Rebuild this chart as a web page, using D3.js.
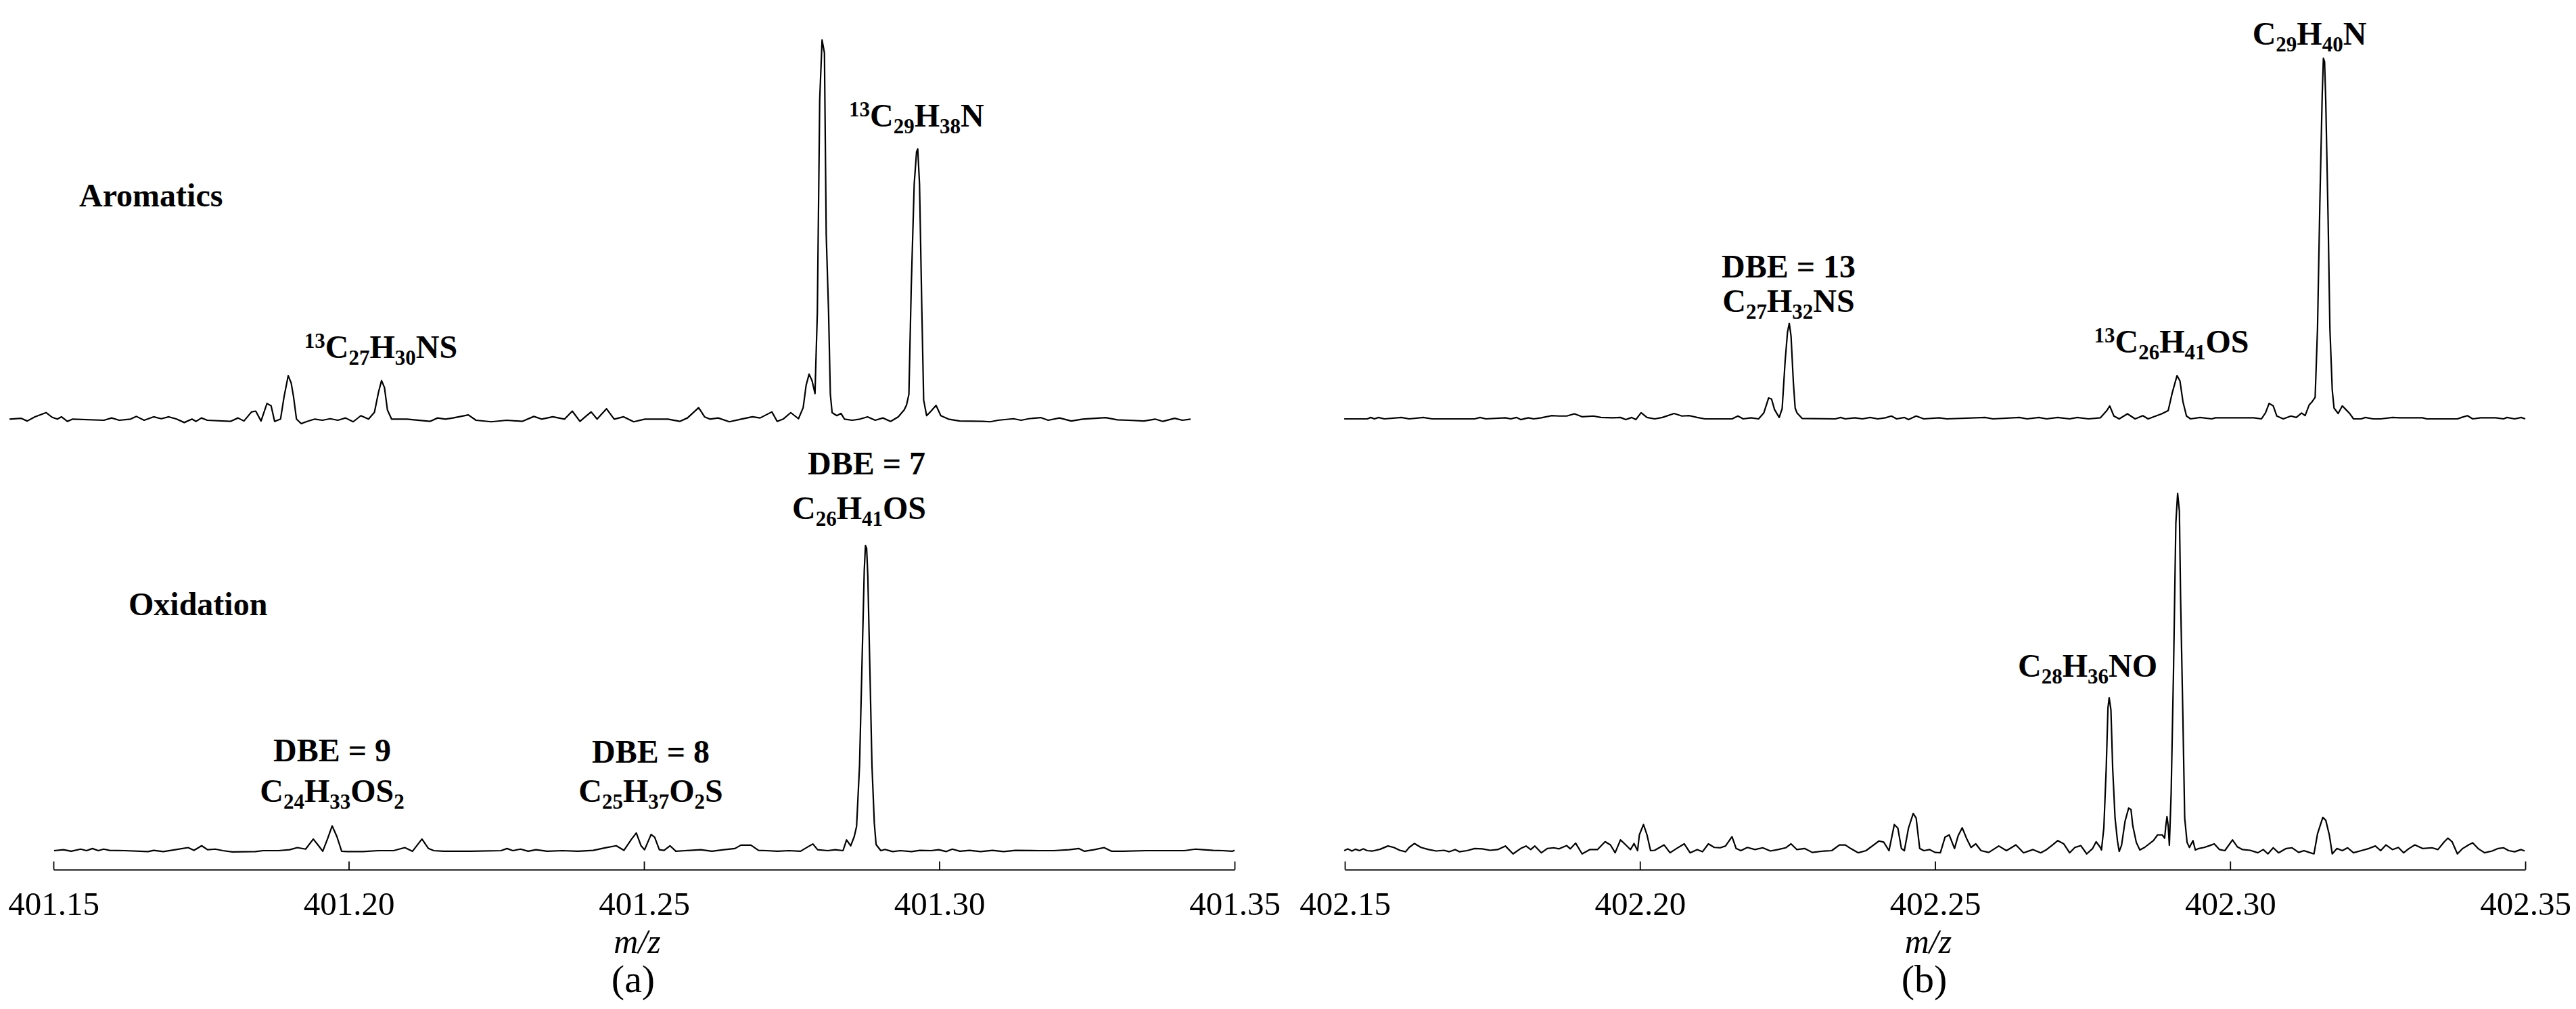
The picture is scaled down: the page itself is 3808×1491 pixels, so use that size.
<!DOCTYPE html>
<html>
<head>
<meta charset="utf-8">
<script src="https://cdn.jsdelivr.net/npm/d3@7"></script>
<style>
  body { margin: 0; background: #fff; }
  svg text { font-family: "Liberation Serif", "Times New Roman", serif; fill: #000; }
</style>
</head>
<body>
<div id="chart"></div>
<script>
// m/z tick values for the two panels
var ticksA = [401.15, 401.20, 401.25, 401.30, 401.35];
var ticksB = [402.15, 402.20, 402.25, 402.30, 402.35];

// spectra: [m/z, relative abundance %] (tallest peak of each trace = 100)
var aromaticsA = [[401.1500,0.3],[401.1520,0.5],[401.1530,-0.2],[401.1543,0.9],[401.1562,2.0],[401.1572,0.8],[401.1581,0.3],[401.1588,0.9],[401.1598,-0.3],[401.1607,0.3],[401.1660,0],[401.1673,0.6],[401.1686,0],[401.1705,0.3],[401.1715,1.0],[401.1728,0],[401.1744,0.9],[401.1757,0.4],[401.1770,0.9],[401.1783,0.3],[401.1796,-0.6],[401.1809,0.3],[401.1816,-0.3],[401.1825,0.6],[401.1835,0],[401.1874,-0.3],[401.1887,0.6],[401.1897,-0.2],[401.1910,2.2],[401.1917,2.4],[401.1926,-0.2],[401.1936,4.4],[401.1943,3.8],[401.1949,-0.3],[401.1959,0.3],[401.1965,6.2],[401.1972,11.7],[401.1977,9.8],[401.1981,6.2],[401.1986,0.3],[401.1994,-0.9],[401.2004,-0.3],[401.2017,0.3],[401.2030,0],[401.2043,0.4],[401.2056,0],[401.2069,0.6],[401.2082,-0.4],[401.2095,1.2],[401.2108,0.3],[401.2118,2.1],[401.2125,7.4],[401.2130,10.4],[401.2135,8.6],[401.2140,2.7],[401.2147,0.3],[401.2173,0.3],[401.2212,-0.3],[401.2225,0.6],[401.2238,0.3],[401.2251,0.6],[401.2277,1.4],[401.2290,0],[401.2316,-0.4],[401.2342,0],[401.2368,-0.3],[401.2388,1.0],[401.2401,0.3],[401.2420,0.9],[401.2440,0.3],[401.2453,2.4],[401.2466,-0.3],[401.2475,0.9],[401.2485,2.2],[401.2495,0.3],[401.2511,3.0],[401.2524,0.3],[401.2540,0.9],[401.2557,-0.4],[401.2576,0.3],[401.2615,0.3],[401.2635,-0.3],[401.2648,0.6],[401.2667,3.3],[401.2677,0.9],[401.2686,0.3],[401.2700,0.6],[401.2719,-0.4],[401.2739,0.3],[401.2758,0.9],[401.2771,0.6],[401.2791,2.2],[401.2800,-0.3],[401.2810,0.3],[401.2823,2.0],[401.2836,0.4],[401.2844,3.3],[401.2849,9.2],[401.2854,12.1],[401.2859,10.4],[401.2864,7.0],[401.2868,28.4],[401.2872,84.2],[401.2876,99.8],[401.2880,96.4],[401.2883,48.8],[401.2887,28.4],[401.2890,6.8],[401.2893,2.0],[401.2901,1.2],[401.2908,1.8],[401.2914,0.3],[401.2927,0],[401.2940,0.3],[401.2953,0.9],[401.2966,0],[401.2979,0.6],[401.2992,-0.3],[401.3005,0.9],[401.3015,2.7],[401.3019,4.0],[401.3023,6.8],[401.3027,35],[401.3032,62],[401.3036,70.5],[401.3038,71.2],[401.3041,62],[401.3045,28.4],[401.3048,5.3],[401.3053,1.2],[401.3061,2.5],[401.3069,3.9],[401.3077,1.2],[401.3090,0.3],[401.3109,-0.2],[401.3148,-0.3],[401.3161,-0.4],[401.3174,0],[401.3200,0.4],[401.3213,0],[401.3226,0.4],[401.3246,0.7],[401.3259,0],[401.3278,0.6],[401.3298,-0.2],[401.3317,0.3],[401.3356,0.7],[401.3376,0.1],[401.3395,0],[401.3421,-0.2],[401.3440,0.3],[401.3453,-0.3],[401.3473,0.5],[401.3486,0],[401.3500,0.3]];

var oxidationA = [[401.1501,0],[401.1517,0.3],[401.1530,-0.2],[401.1546,0.5],[401.1556,0],[401.1566,0.7],[401.1576,0],[401.1585,0.5],[401.1595,0.1],[401.1621,0],[401.1660,-0.3],[401.1670,0.1],[401.1686,-0.3],[401.1706,0.3],[401.1728,1.0],[401.1738,0.1],[401.1751,1.6],[401.1761,0.3],[401.1774,0.5],[401.1787,0],[401.1803,-0.4],[401.1842,-0.3],[401.1855,0],[401.1881,0],[401.1900,0.3],[401.1913,1.0],[401.1927,0.5],[401.1940,3.8],[401.1949,1.6],[401.1956,-0.2],[401.1964,3.8],[401.1972,8.1],[401.1980,4.6],[401.1988,-0.2],[401.1998,-0.3],[401.2024,-0.3],[401.2050,0],[401.2076,0],[401.2095,1.0],[401.2108,-0.2],[401.2124,3.8],[401.2135,0.7],[401.2144,0],[401.2161,-0.2],[401.2206,-0.2],[401.2258,0],[401.2268,0.7],[401.2278,0],[401.2291,0.5],[401.2304,-0.2],[401.2317,0.3],[401.2336,-0.2],[401.2362,0],[401.2388,-0.2],[401.2414,0.1],[401.2434,0.9],[401.2453,1.6],[401.2466,0.1],[401.2479,3.8],[401.2487,5.8],[401.2495,1.6],[401.2501,0.3],[401.2512,5.3],[401.2518,4.4],[401.2526,0.3],[401.2534,0.1],[401.2544,1.6],[401.2554,-0.2],[401.2570,0],[401.2596,0.3],[401.2615,-0.2],[401.2635,0.3],[401.2654,0.7],[401.2664,1.8],[401.2681,1.8],[401.2694,0.1],[401.2707,0],[401.2726,-0.2],[401.2745,0],[401.2765,-0.2],[401.2778,1.3],[401.2786,2.2],[401.2794,0.3],[401.2811,0],[401.2824,0.3],[401.2837,0],[401.2843,3.5],[401.2850,1.6],[401.2856,4.6],[401.2860,8],[401.2865,28],[401.2869,60],[401.2873,92],[401.2875,100],[401.2877,99],[401.2879,90],[401.2883,55],[401.2886,28],[401.2890,9],[401.2893,2],[401.2901,0],[401.2908,0.4],[401.2921,-0.3],[401.2934,0],[401.2953,-0.3],[401.2967,0.1],[401.2986,0],[401.2999,0.3],[401.3012,-0.3],[401.3022,0.5],[401.3035,-0.2],[401.3051,0.1],[401.3070,-0.3],[401.3090,0.1],[401.3109,-0.3],[401.3129,0.1],[401.3168,0],[401.3194,0],[401.3220,0.3],[401.3236,0.7],[401.3246,-0.2],[401.3262,0.3],[401.3279,1.0],[401.3292,-0.2],[401.3311,-0.2],[401.3350,0],[401.3389,0],[401.3415,0],[401.3434,0.5],[401.3447,0.3],[401.3464,0.1],[401.3480,0],[401.3496,-0.2],[401.3500,0.1]];

var aromaticsB = [[402.1499,0],[402.1538,0],[402.1544,0.4],[402.1550,0],[402.1557,0.4],[402.1567,0],[402.1596,0.4],[402.1609,0],[402.1633,0.4],[402.1648,0],[402.1720,0],[402.1729,0.4],[402.1739,0],[402.1772,0.3],[402.1781,0],[402.1791,0.4],[402.1798,-0.2],[402.1811,0.3],[402.1820,0],[402.1833,0.3],[402.1850,0.9],[402.1863,0.8],[402.1876,0.8],[402.1889,1.4],[402.1902,0.6],[402.1921,0.8],[402.1934,0.4],[402.1954,0.3],[402.1967,0.4],[402.1976,-0.2],[402.1986,0.4],[402.1993,-0.2],[402.2002,1.7],[402.2012,0.4],[402.2025,0],[402.2038,0.4],[402.2058,1.5],[402.2071,0.8],[402.2084,0.9],[402.2097,0.4],[402.2110,0],[402.2156,0],[402.2166,0.8],[402.2175,0],[402.2188,0.3],[402.2201,0],[402.2210,1.7],[402.2218,5.8],[402.2223,5.5],[402.2228,2.6],[402.2236,0.4],[402.2241,2.9],[402.2246,16],[402.2250,24],[402.2253,26.5],[402.2256,23],[402.2260,10],[402.2263,3],[402.2266,1.7],[402.2275,0.1],[402.2331,0],[402.2340,0.4],[402.2348,0],[402.2364,0.3],[402.2377,0],[402.2390,0.4],[402.2403,0],[402.2416,0.3],[402.2426,0.8],[402.2435,0],[402.2448,0.4],[402.2455,-0.2],[402.2468,0.8],[402.2481,0],[402.2507,0.3],[402.2520,0],[402.2585,0.4],[402.2598,0],[402.2643,0.4],[402.2656,0],[402.2676,0.4],[402.2689,0],[402.2708,0.4],[402.2728,0],[402.2741,0.4],[402.2760,0],[402.2780,0.3],[402.2791,2.3],[402.2796,3.6],[402.2803,0.8],[402.2812,0],[402.2826,1.4],[402.2839,0],[402.2852,0.9],[402.2861,0],[402.2874,0.8],[402.2884,1.4],[402.2895,2.3],[402.2902,7.3],[402.2910,12.0],[402.2915,10.5],[402.2920,4.8],[402.2926,0.8],[402.2933,0],[402.2949,0.4],[402.2969,0],[402.2975,0.3],[402.3040,0.3],[402.3053,0],[402.3060,1.7],[402.3066,4.3],[402.3073,3.6],[402.3079,0.8],[402.3090,0],[402.3103,0.8],[402.3112,0.4],[402.3121,1.6],[402.3127,0.9],[402.3134,3.9],[402.3139,4.8],[402.3144,6],[402.3148,25],[402.3152,60],[402.3156,90],[402.3158,100],[402.3160,99],[402.3162,88],[402.3166,55],[402.3169,25],[402.3173,8],[402.3176,3],[402.3183,1.5],[402.3190,3.6],[402.3196,2.6],[402.3203,1.4],[402.3209,0],[402.3222,0],[402.3229,0.4],[402.3242,0],[402.3255,0],[402.3275,0.4],[402.3287,0.3],[402.3326,0.3],[402.3333,0],[402.3385,0],[402.3392,0.4],[402.3402,0.9],[402.3411,0],[402.3424,0.3],[402.3450,0.3],[402.3463,0],[402.3469,0.4],[402.3482,0],[402.3493,0.4],[402.3500,0]];

var oxidationB = [[402.1499,0],[402.1505,0.5],[402.1512,-0.1],[402.1518,0.4],[402.1525,0],[402.1531,0.5],[402.1538,0],[402.1547,-0.1],[402.1560,0.4],[402.1573,1.3],[402.1583,0.9],[402.1593,0.1],[402.1603,-0.3],[402.1609,0.9],[402.1618,2.0],[402.1629,0.9],[402.1642,0.3],[402.1655,-0.1],[402.1668,0.1],[402.1677,-0.3],[402.1687,0.3],[402.1694,-0.3],[402.1707,0],[402.1720,0.6],[402.1733,0.5],[402.1746,0.1],[402.1759,0.3],[402.1772,1.3],[402.1785,-0.9],[402.1798,0.6],[402.1807,1.3],[402.1815,0.3],[402.1822,1.3],[402.1833,-0.6],[402.1843,0.6],[402.1854,0.8],[402.1863,0.5],[402.1876,1.4],[402.1882,0.5],[402.1891,2.1],[402.1902,-0.9],[402.1915,0.3],[402.1928,0.3],[402.1941,2.5],[402.1950,1.6],[402.1958,-0.6],[402.1967,3.0],[402.1976,1.6],[402.1984,0.3],[402.1990,2.0],[402.1996,0],[402.1999,4.4],[402.2006,7.3],[402.2012,4.4],[402.2018,0],[402.2025,0.1],[402.2041,1.6],[402.2051,-0.6],[402.2062,0.6],[402.2075,1.9],[402.2085,-0.6],[402.2097,0.3],[402.2106,-0.3],[402.2116,1.9],[402.2126,0.9],[402.2136,0.8],[402.2145,1.3],[402.2156,3.9],[402.2163,0.6],[402.2171,0],[402.2182,0.9],[402.2195,0.3],[402.2208,0.8],[402.2221,-0.1],[402.2234,0.3],[402.2247,0.8],[402.2256,1.9],[402.2266,0.3],[402.2279,0.6],[402.2292,-0.5],[402.2312,-0.1],[402.2325,0],[402.2338,1.6],[402.2348,1.6],[402.2357,0.6],[402.2370,-0.6],[402.2383,0],[402.2396,1.6],[402.2405,2.7],[402.2413,2.4],[402.2422,0],[402.2431,7.3],[402.2437,6.3],[402.2443,0.6],[402.2448,0],[402.2455,6.3],[402.2463,10.4],[402.2468,9.1],[402.2474,0.6],[402.2481,0],[402.2491,0.3],[402.2500,-0.5],[402.2509,-0.6],[402.2517,3.8],[402.2524,4.4],[402.2533,0.6],[402.2539,4.1],[402.2546,6.4],[402.2554,3.2],[402.2561,0.9],[402.2569,1.9],[402.2578,0],[402.2591,-0.5],[402.2608,1.3],[402.2621,0],[402.2637,1.6],[402.2650,-0.6],[402.2666,0.3],[402.2679,-0.6],[402.2689,0.3],[402.2699,1.6],[402.2708,2.8],[402.2718,1.9],[402.2728,-0.6],[402.2737,0.9],[402.2747,1.4],[402.2757,-0.9],[402.2767,0.6],[402.2773,2.5],[402.2780,0.9],[402.2782,0.2],[402.2786,6.4],[402.2790,22.9],[402.2793,40],[402.2795,42.8],[402.2798,39.4],[402.2801,22.9],[402.2805,9.1],[402.2809,2.8],[402.2812,-0.2],[402.2816,1.5],[402.2822,8.3],[402.2828,11.9],[402.2832,11.5],[402.2835,7],[402.2841,2.3],[402.2847,0.2],[402.2855,0.9],[402.2870,2.8],[402.2877,4.4],[402.2885,4.4],[402.2889,3.5],[402.2891,7],[402.2893,9.5],[402.2895,7],[402.2897,1.5],[402.2900,15.9],[402.2904,50],[402.2908,91.7],[402.2911,100],[402.2914,95],[402.2916,71],[402.2920,36.7],[402.2923,9.1],[402.2927,2.3],[402.2931,0.9],[402.2937,2.8],[402.2941,0.2],[402.2947,0.6],[402.2956,0.9],[402.2965,1.4],[402.2973,1.9],[402.2982,0.3],[402.2991,0],[402.3004,3.0],[402.3012,1.1],[402.3021,0.3],[402.3034,0.1],[402.3047,-0.6],[402.3056,0.3],[402.3064,-0.9],[402.3073,0.8],[402.3082,-0.6],[402.3095,0.6],[402.3105,0.8],[402.3116,-0.5],[402.3125,0],[402.3134,-0.5],[402.3142,-0.9],[402.3148,4.7],[402.3157,9.3],[402.3162,8.5],[402.3168,4.4],[402.3173,-0.9],[402.3181,0.6],[402.3190,0],[402.3199,0.8],[402.3209,-0.6],[402.3222,0],[402.3235,0.6],[402.3246,1.3],[402.3255,0],[402.3264,1.6],[402.3275,0.3],[402.3285,0.9],[402.3294,-0.6],[402.3303,0.6],[402.3313,1.6],[402.3326,0.6],[402.3342,0.8],[402.3352,0.3],[402.3363,2.5],[402.3369,3.5],[402.3376,2.5],[402.3385,-0.9],[402.3394,0.6],[402.3404,1.6],[402.3411,2.2],[402.3420,0.6],[402.3431,-0.6],[402.3444,-0.1],[402.3454,0.6],[402.3463,0.8],[402.3472,0],[402.3482,-0.3],[402.3493,0.3],[402.3499,-0.1]];

// annotation texts (^ = superscript, _ = subscript)
var textsA = ["Aromatics", "^13C_27H_30NS", "^13C_29H_38N", "DBE = 7", "C_26H_41OS", "Oxidation", "DBE = 9", "C_24H_33OS_2", "DBE = 8", "C_25H_37O_2S"];
var textsB = ["C_29H_40N", "DBE = 13", "C_27H_32NS", "^13C_26H_41OS", "C_28H_36NO"];

var W = 3808, H = 1491;
var svg = d3.select("#chart").append("svg")
    .attr("width", W)
    .attr("height", H);
svg.append("rect").attr("width", W).attr("height", H).attr("fill", "#fff");

var axisY = 1285;

var panelA = {domain: [401.15, 401.35], left: 79, right: 1825, ticks: ticksA, tag: "(a)",
    traces: [
        {data: aromaticsA, shift: -65, base: 621, height: 563},
        {data: oxidationA, shift: 0, base: 1257, height: 451}
    ]};
var panelB = {domain: [402.15, 402.35], left: 1988, right: 3733, ticks: ticksB, tag: "(b)",
    traces: [
        {data: aromaticsB, shift: 0, base: 619, height: 533},
        {data: oxidationB, shift: 0, base: 1257, height: 528}
    ]};

function drawPanel(p) {
    var x = d3.scaleLinear().domain(p.domain).range([p.left, p.right]);

    p.traces.forEach(function(t) {
        // each trace gets its own x shift (top trace in (a) sits offset in the original)
        var xt = d3.scaleLinear().domain(p.domain).range([p.left + t.shift, p.right + t.shift]);
        var y = d3.scaleLinear().domain([0, 100]).range([t.base, t.base - t.height]);
        var line = d3.line()
            .x(function(d) { return xt(d[0]); })
            .y(function(d) { return y(d[1]); });
        svg.append("path")
            .attr("d", line(t.data))
            .style("fill", "none")
            .style("stroke", "#000")
            .style("stroke-width", 2.2)
            .style("stroke-linejoin", "round");
    });

    var xAxis = d3.axisBottom(x)
        .tickValues(p.ticks)
        .tickFormat(d3.format(".2f"))
        .tickSizeInner(-12)
        .tickSizeOuter(0);

    var ax = svg.append("g")
        .attr("transform", "translate(0," + axisY + ")")
        .call(xAxis);
    ax.select(".domain").style("stroke", "#000").style("stroke-width", 2);
    ax.selectAll(".tick line").style("stroke", "#000").style("stroke-width", 1.8);
    ax.selectAll(".tick text")
        .attr("y", 67)
        .attr("dy", 0)
        .style("font-family", "'Liberation Serif', 'Times New Roman', serif")
        .style("font-size", "49px")
        .style("fill", "#000");

    var mid = (p.left + p.right) / 2 - 10;
    svg.append("text")
        .attr("x", mid).attr("y", 1408)
        .attr("text-anchor", "middle")
        .style("font-size", "50px")
        .style("font-style", "italic")
        .text("m/z");
    svg.append("text")
        .attr("x", mid - 6).attr("y", 1466)
        .attr("text-anchor", "middle")
        .style("font-size", "58px")
        .text(p.tag);
}

drawPanel(panelA);
drawPanel(panelB);

// bold formula label with sub/superscripts
function addLabel(str, x, y, anchor) {
    var t = svg.append("text")
        .attr("x", x).attr("y", y)
        .attr("text-anchor", anchor)
        .style("font-weight", "bold")
        .style("font-size", "48px");
    var re = /([\^_])(\d+)|([^\^_]+)/g, m, shift = 0;
    while ((m = re.exec(str))) {
        if (m[3]) {
            t.append("tspan").attr("dy", -shift).text(m[3]);
            shift = 0;
        } else {
            var s = m[1] === "_" ? 10 : -15;
            t.append("tspan").attr("dy", s - shift).style("font-size", "31px").text(m[2]);
            shift = s;
        }
    }
}

// label placement (pixels)
addLabel(textsA[0], 117, 305, "start");
addLabel(textsA[1], 563, 529, "middle");
addLabel(textsA[2], 1255, 187, "start");
addLabel(textsA[3], 1281, 701, "middle");
addLabel(textsA[4], 1270, 767, "middle");
addLabel(textsA[5], 190, 909, "start");
addLabel(textsA[6], 491, 1125, "middle");
addLabel(textsA[7], 491, 1185, "middle");
addLabel(textsA[8], 962, 1127, "middle");
addLabel(textsA[9], 962, 1185, "middle");

addLabel(textsB[0], 3414, 66, "middle");
addLabel(textsB[1], 2644, 410, "middle");
addLabel(textsB[2], 2644, 461, "middle");
addLabel(textsB[3], 3210, 521, "middle");
addLabel(textsB[4], 3086, 1000, "middle");
</script>
</body>
</html>
